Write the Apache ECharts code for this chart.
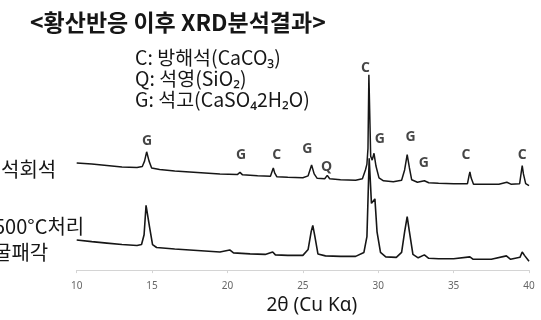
<!DOCTYPE html>
<html>
<head>
<meta charset="utf-8">
<script src="https://cdn.jsdelivr.net/npm/echarts@6/dist/echarts.min.js"></script>
<style>
  html, body { margin: 0; padding: 0; background: #fff; }
  #chart { width: 541px; height: 320px; }
</style>
</head>
<body>
<div id="chart"></div>
<script>
// 2θ ticks
const thetaTicks = [10, 15, 20, 25, 30, 35, 40];

// 석회석 pattern [2θ, intensity (a.u.)]
const limestone = [
  [10.0, 109], [11.0, 108], [12.0, 106.5], [13.0, 105], [14.0, 104.5], [14.35, 105.5],
  [14.5, 111], [14.64, 120.5], [14.8, 111], [14.97, 104], [15.5, 102.5], [16.5, 101],
  [17.5, 100], [18.5, 99], [19.5, 98], [20.65, 97.3], [20.83, 99.5], [21.0, 97],
  [22.0, 96], [22.85, 95.5], [22.97, 101], [23.04, 104], [23.13, 99], [23.28, 95],
  [24.0, 94.5], [25.0, 94], [25.35, 96], [25.58, 107], [25.75, 98], [25.95, 93.5],
  [26.45, 93], [26.62, 96.5], [26.78, 93], [27.5, 92], [28.5, 91.5], [28.95, 93],
  [29.15, 102], [29.25, 108], [29.32, 124], [29.38, 199], [29.5, 116], [29.6, 112],
  [29.72, 119], [29.85, 106], [30.05, 94], [30.35, 91], [31.0, 90], [31.55, 91.5],
  [31.75, 102], [31.92, 117.5], [32.07, 104], [32.22, 92], [32.6, 89.5], [33.06, 91],
  [33.35, 89], [34.0, 88.5], [35.0, 88], [35.92, 88], [36.02, 96], [36.08, 100],
  [36.16, 94], [36.32, 87.5], [37.0, 87.5], [38.0, 87.5], [38.53, 89.5], [38.8, 87.5],
  [39.38, 88], [39.48, 99], [39.55, 106.5], [39.63, 98], [39.78, 88], [40.0, 86]
];

// 500°C처리 굴패각 pattern [2θ, intensity (a.u.)]
const oysterShell = [
  [10.0, 30.7], [11.0, 29], [12.0, 27.5], [13.0, 26], [14.0, 25], [14.3, 26],
  [14.47, 36], [14.6, 66], [14.68, 67], [14.83, 44], [15.03, 26], [15.3, 23],
  [16.5, 21.5], [17.5, 20.5], [18.5, 19.5], [19.5, 18.5], [20.15, 20.5], [20.4, 17.5],
  [21.5, 16.5], [22.5, 16], [23.0, 18.5], [23.18, 15.5], [24.0, 15], [25.0, 15],
  [25.35, 21], [25.55, 39], [25.66, 45.5], [25.8, 34], [26.0, 16.5], [26.5, 14.5],
  [27.5, 14], [28.5, 14], [29.05, 18], [29.25, 34], [29.4, 114], [29.55, 68],
  [29.78, 72.5], [29.92, 39], [30.15, 18], [30.5, 13.5], [31.2, 13], [31.55, 18],
  [31.75, 39], [31.92, 54.5], [32.07, 39], [32.3, 16], [32.65, 12.5], [33.06, 15.5],
  [33.35, 12], [34.0, 11.5], [35.0, 11.5], [36.08, 13.5], [36.3, 11], [37.5, 11],
  [38.5, 14.5], [38.78, 11], [39.4, 13], [39.55, 18.5], [39.7, 15], [40.0, 9]
];

// peak labels
const peakTheta = [14.66, 20.9, 23.26, 25.29, 26.58, 29.16, 30.11, 32.15, 33.03, 35.82, 39.55];
const peakLevel = [131, 117, 117, 123.5, 105, 206, 134, 136, 109, 117, 117];
const peakPhase = ['G', 'G', 'C', 'G', 'Q', 'C', 'G', 'G', 'G', 'C', 'C'];

const phaseKey = ['C: 방해석(CaCO₃)', 'Q: 석영(SiO₂)', 'G: 석고(CaSO₄2H₂O)'];
const sampleNames = ['석회석', '500°C처리', '굴패각'];

const chart = echarts.init(document.getElementById('chart'));
const ink = '#161616';
const kr = '"Noto Sans CJK KR", "Noto Sans", sans-serif';

const option = {
  animation: false,
  backgroundColor: '#fff',
  title: {
    text: '<황산반응 이후 XRD분석결과>',
    left: 25,
    top: 6,
    textStyle: { fontFamily: kr, fontSize: 23, fontWeight: 'bold', color: ink }
  },
  grid: { left: 76.7, right: 12, top: 60, bottom: 46 },
  xAxis: {
    type: 'value',
    min: 10,
    max: 40,
    interval: 5,
    name: '2θ (Cu Kα)',
    nameLocation: 'middle',
    nameGap: 23,
    nameTextStyle: { fontFamily: '"Noto Sans", sans-serif', fontSize: 19, color: ink, padding: [0, 0, 0, 18] },
    axisLine: { show: true, lineStyle: { color: '#d4d4d4', width: 1 } },
    axisTick: { show: true, length: 3, lineStyle: { color: '#d4d4d4' } },
    axisLabel: {
      fontFamily: '"Noto Sans", sans-serif', fontSize: 10, color: '#666', margin: 11,
      formatter: (v) => (thetaTicks.includes(v) ? String(v) : '')
    },
    splitLine: { show: false }
  },
  yAxis: { type: 'value', min: 0, max: 214, show: false },
  graphic: [
    ...phaseKey.map((t, i) => ({
      type: 'text', left: 135, top: 48 + i * 21,
      style: { text: t, fontFamily: kr, fontSize: 19.5, fill: ink }
    })),
    { type: 'text', left: 1, top: 159, style: { text: sampleNames[0], fontFamily: kr, fontSize: 20, fill: ink } },
    { type: 'text', left: -6, top: 216, style: { text: sampleNames[1], fontFamily: kr, fontSize: 20, fill: ink } },
    { type: 'text', left: -7, top: 242, style: { text: sampleNames[2], fontFamily: kr, fontSize: 20, fill: ink } }
  ],
  series: [
    {
      name: sampleNames[0],
      type: 'line',
      data: limestone,
      symbol: 'none',
      lineStyle: { color: ink, width: 1.5 }
    },
    {
      name: sampleNames[1] + ' ' + sampleNames[2],
      type: 'line',
      data: oysterShell,
      symbol: 'none',
      lineStyle: { color: ink, width: 1.6 }
    },
    {
      name: 'phase',
      type: 'scatter',
      symbolSize: 0,
      data: peakTheta.map((t, i) => ({ value: [t, peakLevel[i]], name: peakPhase[i] })),
      label: {
        show: true,
        position: 'inside',
        formatter: (p) => p.name,
        fontFamily: '"Open Sans", "Noto Sans", sans-serif',
        fontWeight: 'bold',
        fontSize: 14,
        color: ink
      }
    }
  ]
};

chart.setOption(option);
</script>
</body>
</html>
